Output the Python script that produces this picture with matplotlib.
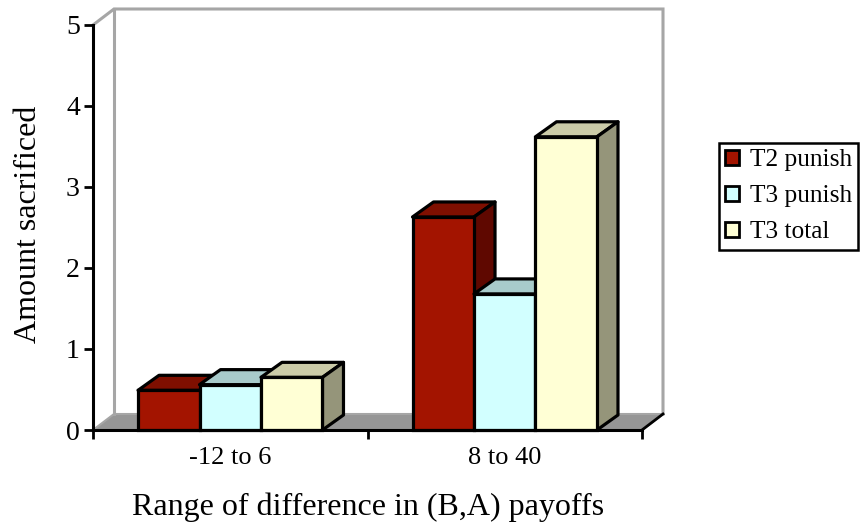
import matplotlib
matplotlib.use('Agg')
import matplotlib.pyplot as plt
from matplotlib.patches import Polygon, Patch

plt.rcParams['font.family'] = ['Liberation Serif', 'DejaVu Serif']

categories = ['-12 to 6', '8 to 40']
series_names = ['T2 punish', 'T3 punish', 'T3 total']
t2_punish = [0.49, 2.63]
t3_punish = [0.56, 1.68]
t3_total = [0.65, 3.62]
y_ticks = [0, 1, 2, 3, 4, 5]

front_colors = ['#A31400', '#D2FFFF', '#FFFFD5']
top_colors = ['#7F0F00', '#A8CBCB', '#CBCBA8']
side_colors = ['#5F0800', '#7F9A9A', '#95957A']

W, H = 861, 527
fig = plt.figure(figsize=(W / 100, H / 100), dpi=100)
ax = fig.add_axes([93 / W, 1 - 430 / H, 549 / W, 405 / H])
ax.set_xlim(0, 2)
ax.set_ylim(0, 5)

# depth of the fake 3d box, in data units
dx = 21 / 274.5
dy = 16 / 81
bar_dy = 15 / 81
bar_w = 0.224

# floor and back walls
ax.add_patch(Polygon([(0, 0), (dx, dy), (2 + dx, dy), (2, 0)], facecolor='#969696',
                     edgecolor='#A6A6A6', lw=1.5, clip_on=False, zorder=1))
ax.plot([0, dx, 2 + dx, 2 + dx], [5, 5 + dy, 5 + dy, dy], color='#A6A6A6', lw=2.2,
        clip_on=False, zorder=1, solid_joinstyle='miter')
ax.plot([dx, dx], [dy, 5 + dy], color='#A6A6A6', lw=2.2, clip_on=False, zorder=1)
# black edge of the floor at the right
ax.plot([2, 2 + dx], [0, dy], color='black', lw=2, clip_on=False, zorder=1.5)


def draw_bar(x, h, i, z):
    ax.bar(x, h, width=bar_w, align='edge', facecolor=front_colors[i], edgecolor='black',
           lw=2.3, clip_on=False, zorder=z + 0.2)
    ax.add_patch(Polygon([(x, h), (x + dx, h + bar_dy), (x + bar_w + dx, h + bar_dy), (x + bar_w, h)],
                         facecolor=top_colors[i], edgecolor='black', lw=2.3,
                         joinstyle='round', clip_on=False, zorder=z))
    ax.add_patch(Polygon([(x + bar_w, 0), (x + bar_w + dx, bar_dy), (x + bar_w + dx, h + bar_dy), (x + bar_w, h)],
                         facecolor=side_colors[i], edgecolor='black', lw=2.3,
                         joinstyle='round', clip_on=False, zorder=z))


for c in range(2):
    start = c + 0.164
    for i, vals in enumerate([t2_punish, t3_punish, t3_total]):
        draw_bar(start + i * bar_w, vals[c], i, 2 + i)

# axes
for s in ['top', 'right']:
    ax.spines[s].set_visible(False)
for s in ['left', 'bottom']:
    ax.spines[s].set_linewidth(2.2)
    ax.spines[s].set_zorder(6)
ax.patch.set_visible(False)

ax.set_yticks(y_ticks)
ax.set_yticklabels([str(v) for v in y_ticks], fontsize=20)
ax.set_xticks([0, 1, 2])
ax.set_xticklabels([])
ax.tick_params(axis='both', width=2, length=6.5, color='black')
ax.tick_params(axis='y', pad=3)
for c, name in enumerate(categories):
    ax.annotate(name, (c + 0.5, 0), xytext=(0, -20.5), textcoords='offset points', ha='center',
                va='center', fontsize=19, annotation_clip=False)

fig.text(29 / W, 1 - 224 / H, 'Amount sacrificed', rotation=90, ha='center', va='center', fontsize=23)
fig.text(368 / W, 1 - 507 / H, 'Range of difference in (B,A) payoffs', ha='center', va='center', fontsize=23)

handles = [Patch(facecolor=front_colors[i], edgecolor='black', lw=2) for i in range(3)]
leg = fig.legend(handles, series_names, loc='upper left', bbox_to_anchor=(719 / W, 1 - 143 / H),
                 bbox_transform=fig.transFigure, fontsize=18.3, frameon=True, fancybox=False,
                 edgecolor='black', framealpha=1, borderaxespad=0, handlelength=0.55, handleheight=0.55,
                 handletextpad=0.4, labelspacing=0.55, borderpad=0.25)
leg.get_frame().set_linewidth(1.8)

fig.savefig('out.png', dpi=100)
